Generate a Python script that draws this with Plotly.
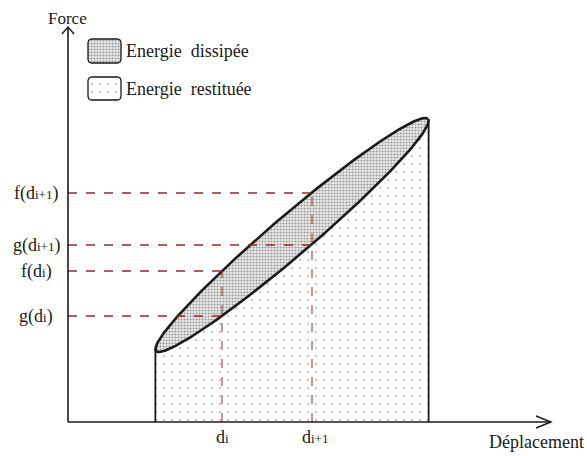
import numpy as np
import plotly.graph_objects as go

# Hysteresis loop (force vs displacement), 1 unit = 10 px on both axes
loop_center = (22.4, 18.7)
loop_major = (13.6, 11.6)      # half major axis vector
loop_minor = 2.0               # half minor axis length

SUB = '<span style="font-size:13px">{}</span>'

# marked displacements and the levels read on the two branches
d_ticks = [15.4, 24.4]
d_labels = ["d" + SUB.format("i"), "d" + SUB.format("i+1")]
f_levels = [15.1, 22.9]
g_levels = [10.6, 17.7]
f_labels = ["f(d" + SUB.format("i") + ")", "f(d" + SUB.format("i+1") + ")"]
g_labels = ["g(d" + SUB.format("i") + ")", "g(d" + SUB.format("i+1") + ")"]

legend_labels = ["Energie  dissipée", "Energie  restituée"]

FONT = "Liberation Serif, Times New Roman, DejaVu Serif, serif"
INK = "#1a1a1a"
DASH = "#9a2824"

# ellipse geometry
cx, cy = loop_center
ax_, ay_ = loop_major
amag = np.hypot(ax_, ay_)
bx_, by_ = -ay_ / amag * loop_minor, ax_ / amag * loop_minor


def loop_pt(t):
    return cx + ax_ * np.cos(t) + bx_ * np.sin(t), cy + ay_ * np.cos(t) + by_ * np.sin(t)


t_right = np.arctan2(bx_, ax_)          # rightmost point of the loop
t_left = t_right + np.pi                # leftmost point
t_full = np.linspace(0, 2 * np.pi, 361)
ex, ey = loop_pt(t_full)
t_low = np.linspace(t_left, t_right + 2 * np.pi, 240)
lx, ly = loop_pt(t_low)
xL, _ = loop_pt(t_left)
xR, _ = loop_pt(t_right)

SPARSE = dict(shape=".", size=8, solidity=0.05, fgcolor="#666", bgcolor="white")
DENSE = dict(shape=".", size=3, solidity=0.4, fgcolor="#444", bgcolor="#ececec")

fig = go.Figure()

# restored energy: area under the unloading branch
fig.add_trace(go.Scatter(
    x=np.concatenate([[xL], lx, [xR, xR, xL]]),
    y=np.concatenate([[0], ly, [0, 0, 0]]),
    mode="lines", line=dict(width=0), fill="toself", fillcolor="white",
    fillpattern=SPARSE, hoverinfo="skip", showlegend=False))

# dissipated energy: inside the loop
fig.add_trace(go.Scatter(
    x=ex, y=ey, mode="lines", line=dict(width=0), fill="toself", fillcolor="white",
    fillpattern=DENSE, hoverinfo="skip", showlegend=False))


def rounded_box(x0, y0, x1, y1, r):
    pts = []
    corners = [(x1 - r, y1 - r, 0), (x0 + r, y1 - r, 90), (x0 + r, y0 + r, 180), (x1 - r, y0 + r, 270)]
    for ccx, ccy, a0 in corners:
        a = np.radians(np.linspace(a0, a0 + 90, 8))
        pts += list(zip(ccx + r * np.cos(a), ccy + r * np.sin(a)))
    pts.append(pts[0])
    return [p[0] for p in pts], [p[1] for p in pts]


legend_boxes = [(2.0, 35.9, 5.3, 38.3), (2.0, 32.2, 5.3, 34.5)]
for (x0, y0, x1, y1), pat, lab in zip(legend_boxes, [DENSE, SPARSE], legend_labels):
    bx, by = rounded_box(x0, y0, x1, y1, 0.35)
    fig.add_trace(go.Scatter(x=bx, y=by, mode="lines", line=dict(color=INK, width=1.3),
                             fill="toself", fillcolor="white", fillpattern=pat,
                             hoverinfo="skip", showlegend=False))
    fig.add_annotation(x=x1 + 0.25, y=(y0 + y1) / 2, text=lab, showarrow=False,
                       xanchor="left", yanchor="middle",
                       font=dict(family=FONT, size=18, color=INK))

# loop outline
fig.add_trace(go.Scatter(x=ex, y=ey, mode="lines", line=dict(color=INK, width=2.6),
                         hoverinfo="skip", showlegend=False))

shapes = []
# bounding verticals of the restored area
for xv, tv in [(xL, t_left), (xR, t_right)]:
    shapes.append(dict(type="line", x0=xv, x1=xv, y0=0, y1=float(loop_pt(tv)[1]),
                       line=dict(color=INK, width=1.8)))

# dashed guides
for d, f, g in zip(d_ticks, f_levels, g_levels):
    shapes.append(dict(type="line", x0=d, x1=d, y0=0, y1=f, line=dict(color=DASH, width=1, dash="dash")))
    shapes.append(dict(type="line", x0=0, x1=d, y0=f, y1=f, line=dict(color=DASH, width=1.3, dash="dash")))
    shapes.append(dict(type="line", x0=0, x1=d, y0=g, y1=g, line=dict(color=DASH, width=1.3, dash="dash")))

# axes with open arrowheads
shapes += [
    dict(type="line", x0=0, x1=0, y0=0, y1=39.5, line=dict(color=INK, width=1.6)),
    dict(type="path", path="M -0.6,38.8 L 0,39.5 L 0.6,38.8", line=dict(color=INK, width=1.4)),
    dict(type="line", x0=0, x1=48.3, y0=0, y1=0, line=dict(color=INK, width=1.6)),
    dict(type="path", path="M 46.8,0.6 L 48.3,0 L 46.8,-0.6", line=dict(color=INK, width=1.4)),
]
fig.update_layout(shapes=shapes)

txt = dict(family=FONT, size=18, color=INK)
for d, lab in zip(d_ticks, d_labels):
    fig.add_annotation(x=d + (0.3 if "+" in lab else 0), y=-1.5, text=lab, showarrow=False,
                       xanchor="center", yanchor="middle", font=txt)
for lv, lab in zip(f_levels + g_levels, f_labels + g_labels):
    fig.add_annotation(x=-3.2, y=lv, text=lab, showarrow=False, xanchor="center", yanchor="middle", font=txt)

fig.add_annotation(x=-0.05, y=40.4, text="Force", showarrow=False, xanchor="center", yanchor="middle",
                   font=dict(family=FONT, size=17, color=INK))
fig.add_annotation(x=41.9, y=-2.0, text="Déplacement", showarrow=False, xanchor="left", yanchor="middle",
                   font=txt)

fig.update_layout(
    width=587, height=456, margin=dict(l=0, r=0, t=0, b=0),
    paper_bgcolor="white", plot_bgcolor="white",
    xaxis=dict(range=[-6.8, 51.9], visible=False, fixedrange=True),
    yaxis=dict(range=[-3.4, 42.2], visible=False, fixedrange=True),
    showlegend=False,
)

fig.write_html("out.html")
